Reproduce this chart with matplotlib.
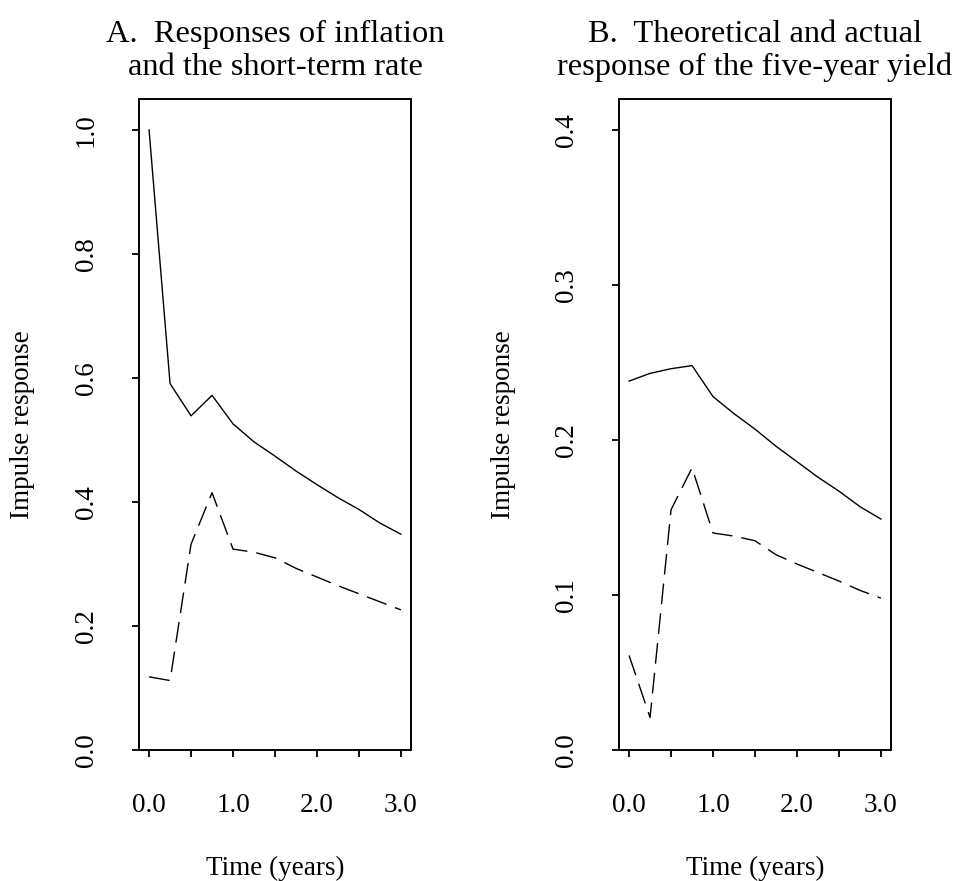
import matplotlib
matplotlib.use("Agg")
import matplotlib.pyplot as plt

plt.rcParams["font.family"] = ["Liberation Serif", "DejaVu Serif"]

# Datos (paso de un trimestre)
tiempo = [0.0, 0.25, 0.5, 0.75, 1.0, 1.25, 1.5, 1.75, 2.0, 2.25, 2.5, 2.75, 3.0]

# Panel A: inflacion (solida) y tasa corta (discontinua)
inflacion = [1.0, 0.591, 0.539, 0.572, 0.526, 0.497, 0.474, 0.450,
             0.428, 0.407, 0.388, 0.366, 0.348]
tasa_corta = [0.118, 0.112, 0.332, 0.415, 0.324, 0.319, 0.310, 0.293,
              0.279, 0.265, 0.252, 0.239, 0.226]

# Panel B: respuesta teorica (solida) y real (discontinua) del rendimiento a 5 anos
teorica = [0.238, 0.243, 0.246, 0.248, 0.228, 0.217, 0.207, 0.196,
           0.186, 0.176, 0.167, 0.157, 0.149]
real = [0.061, 0.021, 0.155, 0.182, 0.140, 0.138, 0.135, 0.126,
        0.120, 0.1145, 0.109, 0.103, 0.098]

titulo_a = "A.  Responses of inflation\nand the short-term rate"
titulo_b = "B.  Theoretical and actual\nresponse of the five-year yield"
x_ticks = [0, 0.5, 1.0, 1.5, 2.0, 2.5, 3.0]
x_etiquetas = ["0.0", "", "1.0", "", "2.0", "", "3.0"]

W, H = 963, 881
fig = plt.figure(figsize=(W / 100, H / 100), dpi=100)

FS = 19.5
FS_TIT = 23.4


def panel(x0, x1, s1, s2, ylim, yticks, ylabels, titulo):
    ax = fig.add_axes([x0 / W, (H - 750) / H, (x1 - x0) / W, 651 / H])
    ax.plot(tiempo, s1, color="black", lw=1.0)
    ax.plot(tiempo, s2, color="black", lw=1.0, dashes=(15, 6.5))
    ax.set_xlim(-0.12, 3.12)
    ax.set_ylim(*ylim)
    ax.set_xticks(x_ticks)
    ax.set_xticklabels(x_etiquetas, fontsize=FS)
    ax.set_yticks(yticks)
    ax.set_yticklabels(ylabels, fontsize=FS, rotation=90, va="center")
    ax.tick_params(direction="out", length=5, width=1.3)
    ax.tick_params(axis="x", pad=26)
    ax.tick_params(axis="y", pad=24)
    for s in ax.spines.values():
        s.set_linewidth(1.4)
    ax.set_xlabel("Time (years)", fontsize=FS)
    ax.xaxis.set_label_coords(0.5, -(868 - 750) / 651)
    ax.set_ylabel("Impulse response", fontsize=FS)
    ax.yaxis.set_label_coords(-(x0 - 23 - (x0 - 139) * 0) / (x1 - x0) if False else -116 / (x1 - x0), 0.5)
    ax.xaxis.label.set_va("center")
    ax.yaxis.label.set_va("center")
    cx = (x0 + x1) / 2 / W
    fig.text(cx, 1 - 75 / H, titulo, fontsize=FS_TIT, ha="center", va="baseline",
             linespacing=1.17, multialignment="center")
    return ax


panel(139, 411, inflacion, tasa_corta, (0, 1.05),
      [0, 0.2, 0.4, 0.6, 0.8, 1.0], ["0.0", "0.2", "0.4", "0.6", "0.8", "1.0"], titulo_a)
panel(619, 891, teorica, real, (0, 0.42),
      [0, 0.1, 0.2, 0.3, 0.4], ["0.0", "0.1", "0.2", "0.3", "0.4"], titulo_b)

fig.savefig("out.png", dpi=100)
plt.close(fig)
